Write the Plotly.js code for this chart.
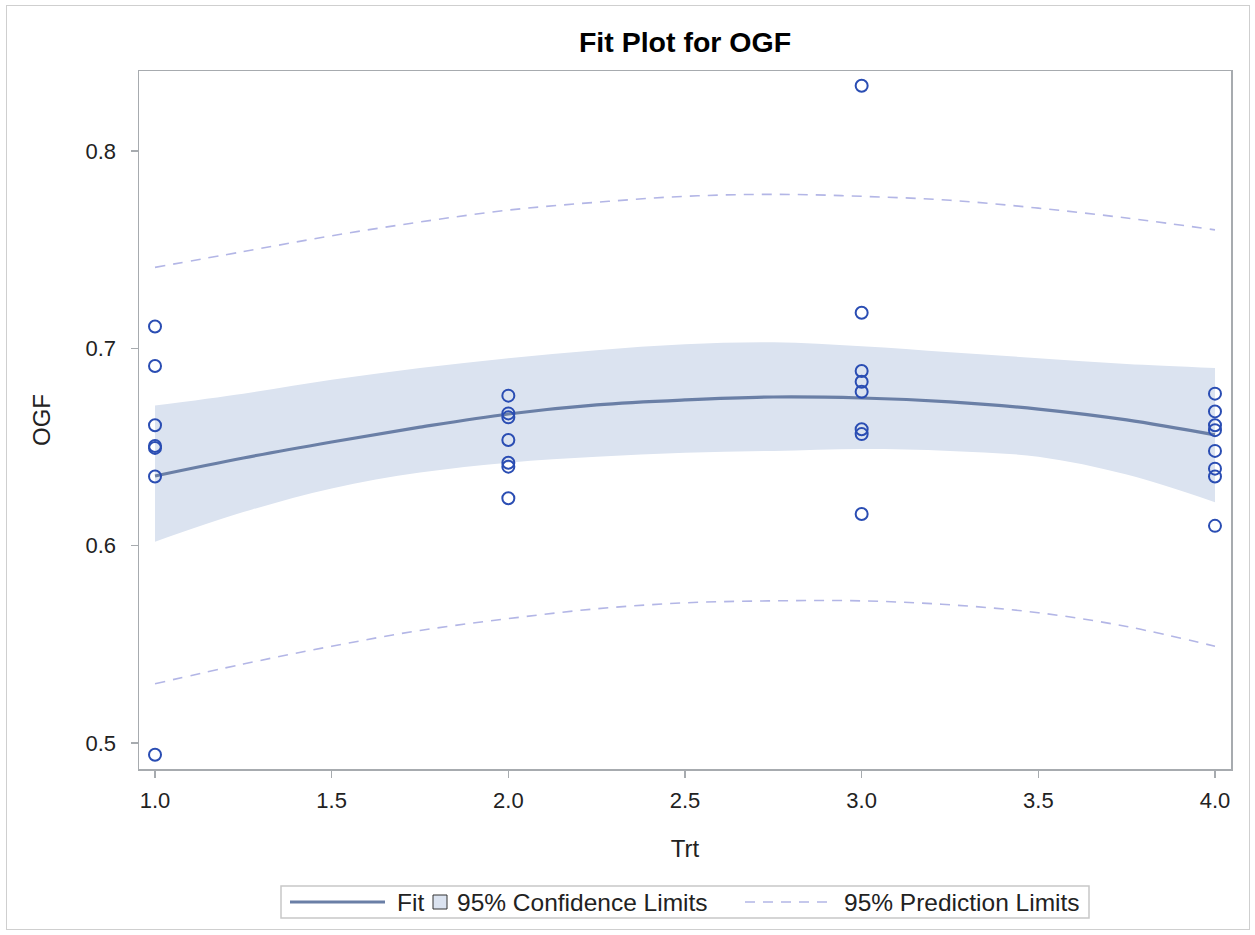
<!DOCTYPE html>
<html>
<head>
<meta charset="utf-8">
<script src="https://cdn.plot.ly/plotly-3.0.1.min.js"></script>
<style>
  html, body { margin: 0; padding: 0; background: #ffffff; }
  #wrap { position: relative; width: 1255px; height: 935px; }
  #chart { position: absolute; left: 0; top: 0; width: 1255px; height: 935px; }
  #frame { position: absolute; left: 6px; top: 5px; width: 1242px; height: 923px;
           border: 1px solid #cfcfcf; pointer-events: none; }
</style>
</head>
<body>
<div id="wrap"><div id="chart"></div><div id="frame"></div></div>
<script>
// Observations
const trtObs = [1, 1, 1, 1, 1, 1, 1,
                2, 2, 2, 2, 2, 2, 2,
                3, 3, 3, 3, 3, 3, 3, 3,
                4, 4, 4, 4, 4, 4, 4, 4];
const ogfObs = [0.711, 0.691, 0.661, 0.6505, 0.6495, 0.635, 0.494,
                0.676, 0.667, 0.665, 0.6535, 0.642, 0.640, 0.624,
                0.833, 0.718, 0.6885, 0.683, 0.678, 0.659, 0.6565, 0.616,
                0.677, 0.668, 0.661, 0.6585, 0.648, 0.639, 0.635, 0.610];

// Fit curve and limits read at Trt grid
const gridTrt  = [1, 1.25, 1.5, 1.75, 2, 2.25, 2.5, 2.75, 3, 3.25, 3.5, 3.75, 4];
const fitVals  = [0.6353, 0.6444, 0.6525, 0.6600, 0.6667, 0.6713, 0.6738, 0.6753, 0.6748, 0.6728, 0.6692, 0.6637, 0.6561];
const clUpper  = [0.671, 0.677, 0.684, 0.690, 0.695, 0.699, 0.702, 0.703, 0.701, 0.698, 0.695, 0.692, 0.690];
const clLower  = [0.602, 0.617, 0.629, 0.637, 0.642, 0.645, 0.647, 0.648, 0.649, 0.648, 0.645, 0.636, 0.622];
const plUpper  = [0.741, 0.749, 0.757, 0.764, 0.770, 0.774, 0.777, 0.778, 0.777, 0.775, 0.771, 0.766, 0.760];
const plLower  = [0.530, 0.540, 0.549, 0.557, 0.563, 0.568, 0.571, 0.572, 0.572, 0.570, 0.566, 0.559, 0.549];

const xTicks = [1, 1.5, 2, 2.5, 3, 3.5, 4];
const yTicks = [0.5, 0.6, 0.7, 0.8];
const legendLabels = ["Fit", "95% Confidence Limits", "95% Prediction Limits"];

const FONT = "Liberation Sans, Arial, sans-serif";
const bandColor = "#dbe3f0";
const plColor = "#b3b6e6";
const fitColor = "#6a7fa6";
const textColor = "#222222";

const traces = [
  { x: gridTrt, y: clLower, type: "scatter", mode: "lines",
    line: { width: 0, color: bandColor, shape: "spline" },
    showlegend: false, hoverinfo: "skip" },
  { x: gridTrt, y: clUpper, type: "scatter", mode: "lines", fill: "tonexty", name: legendLabels[1],
    fillcolor: bandColor, line: { width: 0, color: bandColor, shape: "spline" },
    showlegend: false, hoverinfo: "skip" },
  { x: gridTrt, y: plUpper, type: "scatter", mode: "lines", name: legendLabels[2],
    line: { color: plColor, width: 1.6, dash: "10px,8px", shape: "spline" }, showlegend: false },
  { x: gridTrt, y: plLower, type: "scatter", mode: "lines", name: legendLabels[2],
    line: { color: plColor, width: 1.6, dash: "10px,8px", shape: "spline" }, showlegend: false },
  { x: gridTrt, y: fitVals, type: "scatter", mode: "lines", name: legendLabels[0],
    line: { color: fitColor, width: 3.2, shape: "spline" }, showlegend: false },
  { x: trtObs, y: ogfObs, type: "scatter", mode: "markers", name: "OGF",
    marker: { symbol: "circle-open", size: 12, color: "#2a4db3", line: { width: 2, color: "#2a4db3" } },
    showlegend: false }
];

// Legend box drawn below the plot area (pixel -> paper helpers)
const PL = 139, PW = 1092, PT = 71, PH = 698;
const px = v => (v - PL) / PW;
const py = v => (PT + PH - v) / PH;
const legY = py(902);

const shapes = [
  { type: "rect", xref: "paper", yref: "paper", x0: px(281), x1: px(1089), y0: py(918), y1: py(886),
    line: { color: "#c8c8c8", width: 1.5 }, fillcolor: "#ffffff", layer: "above" },
  { type: "line", xref: "paper", yref: "paper", x0: px(290), x1: px(385), y0: legY, y1: legY,
    line: { color: fitColor, width: 3.2 } },
  { type: "rect", xref: "paper", yref: "paper", x0: px(433), x1: px(447), y0: py(909), y1: py(895),
    line: { color: "#333333", width: 1 }, fillcolor: bandColor },
  { type: "line", xref: "paper", yref: "paper", x0: px(745), x1: px(827), y0: legY, y1: legY,
    line: { color: plColor, width: 1.6, dash: "10px,8px" } }
];

const legFont = { family: FONT, size: 24.5, color: textColor };
const annotations = [
  { text: legendLabels[0], x: px(395), xanchor: "left" },
  { text: legendLabels[1], x: px(455), xanchor: "left" },
  { text: legendLabels[2], x: px(842), xanchor: "left" }
].map(a => Object.assign({ xref: "paper", yref: "paper", y: legY, yanchor: "middle",
                           showarrow: false, font: legFont }, a));

const axisCommon = {
  showgrid: false, zeroline: false, showline: true, mirror: true,
  linecolor: "#a7abaf", linewidth: 1.5, automargin: false,
  ticks: "outside", ticklen: 7, tickwidth: 1.2, tickcolor: "#a7abaf",
  tickfont: { family: FONT, size: 22, color: textColor }
};

const layout = {
  width: 1255, height: 935,
  paper_bgcolor: "#ffffff", plot_bgcolor: "#ffffff",
  margin: { l: 139, r: 24, t: 71, b: 166 },
  title: { text: "<b>Fit Plot for OGF</b>", font: { family: FONT, size: 28.5, color: "#000000" },
           x: 0.5, xref: "paper", xanchor: "center", y: 1 - 42 / 935, yref: "container", yanchor: "middle" },
  xaxis: Object.assign({}, axisCommon, {
    range: [0.9547, 4.0453], tickvals: xTicks, tickformat: ".1f", ticklabelstandoff: 4,
    title: { text: "Trt", font: { family: FONT, size: 24, color: textColor }, standoff: 28 }
  }),
  yaxis: Object.assign({}, axisCommon, {
    range: [0.4868, 0.8405], tickvals: yTicks, tickformat: ".1f", ticklabelstandoff: 10,
    title: { text: "OGF", font: { family: FONT, size: 24, color: textColor }, standoff: 28 }
  }),
  showlegend: false,
  shapes: shapes,
  annotations: annotations
};

Plotly.newPlot("chart", traces, layout, { displayModeBar: false, staticPlot: true });
</script>
</body>
</html>
